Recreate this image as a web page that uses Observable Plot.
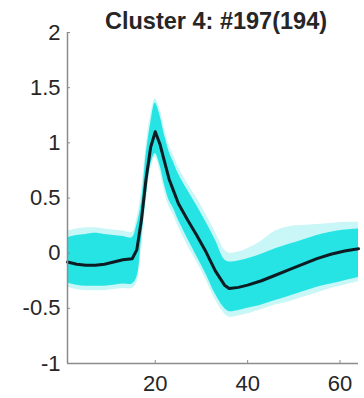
<!DOCTYPE html>
<html>
<head>
<meta charset="utf-8">
<script src="https://cdn.jsdelivr.net/npm/d3@7"></script>
<script src="https://cdn.jsdelivr.net/npm/@observablehq/plot@0.6"></script>
<style>
  html, body { margin: 0; padding: 0; background: #fff; }
</style>
</head>
<body>
<div id="chart"></div>
<script>
const titleText = "Cluster 4: #197(194)";
const xTicks = [20, 40, 60];
const yTicks = [-1, -0.5, 0, 0.5, 1, 1.5, 2];

// sample index
const xs     = [1, 3, 5, 7, 9, 11, 13, 15, 16, 17, 18, 19, 20, 21, 22, 23, 24, 25, 27, 29, 31, 33, 35, 36, 38, 40, 43, 46, 49, 52, 55, 58, 61, 64];
// mean waveform (black)
const meanY  = [-0.08, -0.10, -0.11, -0.11, -0.10, -0.08, -0.06, -0.05, 0.03, 0.30, 0.67, 0.96, 1.10, 0.99, 0.83, 0.67, 0.56, 0.45, 0.30, 0.16, 0.01, -0.16, -0.29, -0.32, -0.31, -0.29, -0.25, -0.20, -0.15, -0.10, -0.05, -0.01, 0.02, 0.04];
// dense cyan envelope of the individual spikes
const upperY = [0.14, 0.16, 0.17, 0.18, 0.17, 0.16, 0.15, 0.14, 0.25, 0.45, 0.88, 1.17, 1.36, 1.25, 1.07, 0.92, 0.82, 0.72, 0.57, 0.43, 0.28, 0.12, -0.06, -0.08, -0.07, -0.05, -0.01, 0.04, 0.08, 0.12, 0.16, 0.19, 0.21, 0.22];
const lowerY = [-0.27, -0.29, -0.30, -0.30, -0.30, -0.29, -0.28, -0.28, -0.22, 0.12, 0.50, 0.80, 0.90, 0.80, 0.62, 0.48, 0.40, 0.30, 0.13, -0.03, -0.19, -0.37, -0.50, -0.53, -0.52, -0.50, -0.47, -0.43, -0.39, -0.35, -0.31, -0.28, -0.25, -0.22];
// faint outliers envelope
const upper2Y = [0.20, 0.22, 0.23, 0.23, 0.22, 0.21, 0.20, 0.19, 0.31, 0.56, 0.96, 1.25, 1.40, 1.31, 1.13, 0.98, 0.88, 0.78, 0.63, 0.50, 0.35, 0.19, 0.03, 0.00, 0.01, 0.04, 0.11, 0.20, 0.24, 0.25, 0.26, 0.27, 0.28, 0.28];
const lower2Y = [-0.31, -0.33, -0.34, -0.34, -0.34, -0.33, -0.32, -0.32, -0.27, 0.04, 0.44, 0.75, 0.87, 0.75, 0.56, 0.42, 0.34, 0.24, 0.07, -0.08, -0.24, -0.42, -0.55, -0.58, -0.57, -0.55, -0.51, -0.47, -0.44, -0.40, -0.36, -0.32, -0.29, -0.26];

const rows = xs.map((x, i) => ({
  x, mean: meanY[i], hi: upperY[i], lo: lowerY[i], hi2: upper2Y[i], lo2: lower2Y[i]
}));

const font = "'Liberation Sans', Arial, Helvetica, sans-serif";
const axisColor = "#8c8c8c";
const labelColor = "#262626";

const chart = Plot.plot({
  width: 364,
  height: 398,
  marginLeft: 67,
  marginRight: 6,
  marginTop: 32,
  marginBottom: 35,
  style: { fontFamily: font, fontSize: "22px", background: "#fff", color: labelColor },
  x: { domain: [1, 64] },
  y: { domain: [-1, 2] },
  marks: [
    Plot.areaY(rows, { x: "x", y1: "lo2", y2: "hi2", fill: "#c9f6f6", curve: "catmull-rom" }),
    Plot.areaY(rows, { x: "x", y1: "lo", y2: "hi", fill: "#26e4e4", curve: "catmull-rom" }),
    Plot.lineY(rows, { x: "x", y: "mean", stroke: "#0c1c22", strokeWidth: 3, strokeLinejoin: "round" }),
    Plot.ruleX([1], { stroke: axisColor, strokeWidth: 1.5 }),
    Plot.ruleY([-1], { stroke: axisColor, strokeWidth: 1.5 }),
    Plot.axisY({ ticks: yTicks, tickFormat: d => String(d), tickSize: -3, tickPadding: 10, stroke: axisColor, fill: labelColor, label: null, fontSize: 22 }),
    Plot.axisX({ ticks: xTicks, tickFormat: d => String(d), tickSize: -3, tickPadding: 15, stroke: axisColor, fill: labelColor, label: null, fontSize: 22 }),
    Plot.text([titleText], { frameAnchor: "top", text: d => d, dy: -11.5, dx: 3, lineAnchor: "middle", fontWeight: "bold", fontSize: 23.5, fill: labelColor })
  ]
});
document.getElementById("chart").appendChild(chart);
</script>
</body>
</html>
